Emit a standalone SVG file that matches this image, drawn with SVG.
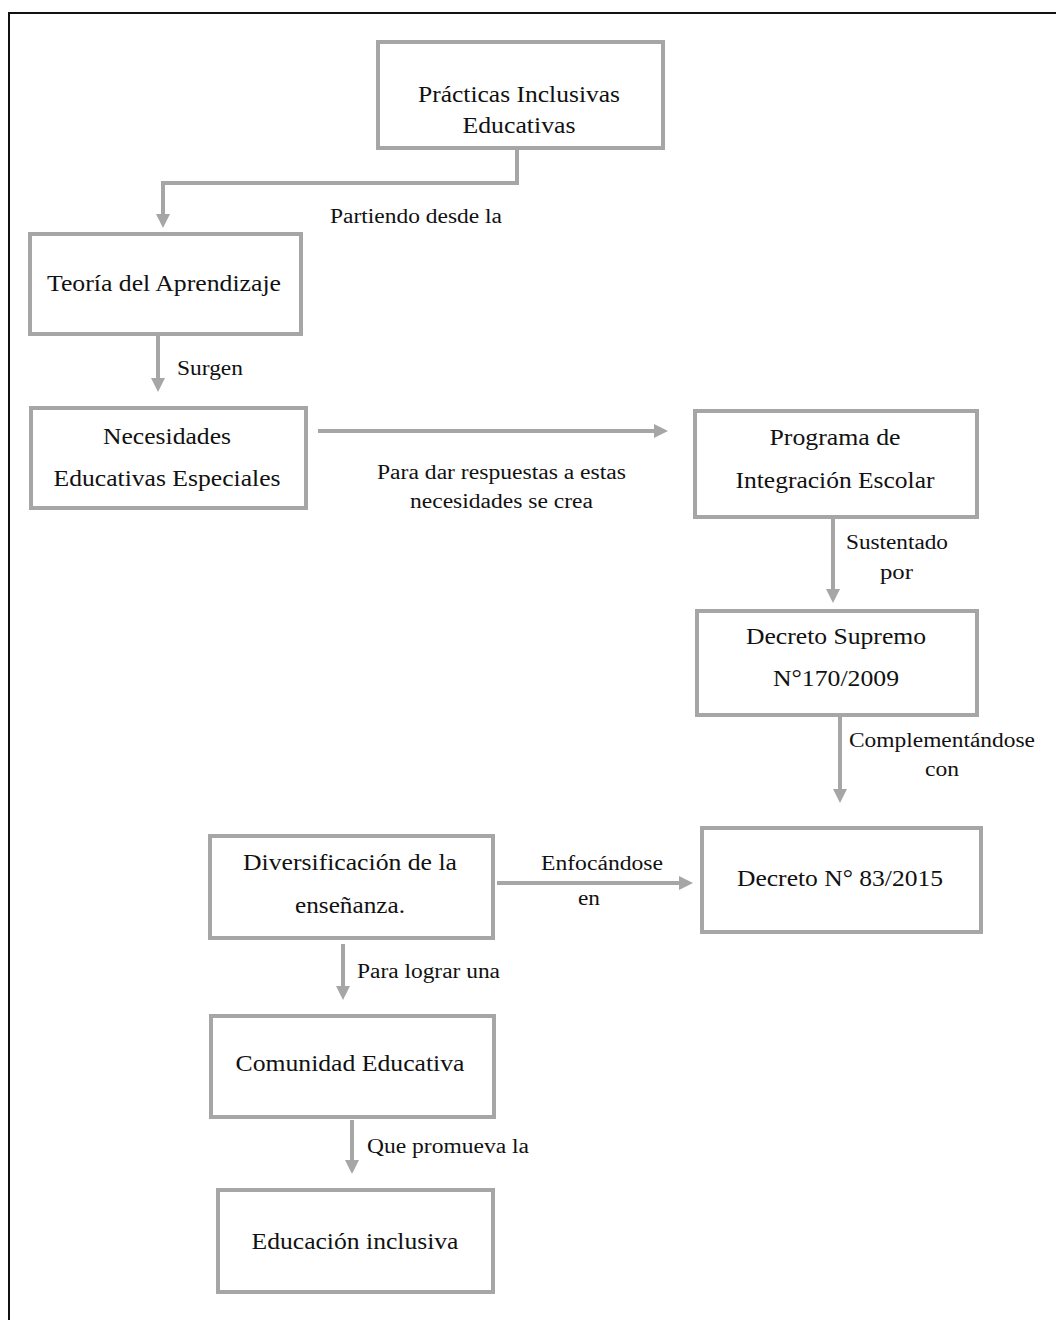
<svg xmlns="http://www.w3.org/2000/svg" width="1056" height="1320" viewBox="0 0 1056 1320">
<style>
.box{fill:#fff;stroke:#a6a6a6;stroke-width:4}
.t{font-family:"Liberation Serif","Times New Roman",serif;font-size:23px;fill:#111;text-anchor:middle}
.l{font-family:"Liberation Serif","Times New Roman",serif;font-size:20px;fill:#111}
.c{fill:none;stroke:#a6a6a6;stroke-width:4}
</style>
<defs>
<marker id="ah" markerUnits="userSpaceOnUse" markerWidth="16" markerHeight="16" refX="2" refY="7" orient="auto">
<path d="M0,0 L14,7 L0,14 z" fill="#a6a6a6"/>
</marker>
</defs>
<rect width="1056" height="1320" fill="#fff"/>
<path d="M9,1320 V13 H1056" fill="none" stroke="#111" stroke-width="2"/>
<g id="connectors">
<path class="c" d="M517,148 V183 H163 V216" marker-end="url(#ah)"/>
<path class="c" d="M158,336 V380" marker-end="url(#ah)"/>
<path class="c" d="M318,431 H656" marker-end="url(#ah)"/>
<path class="c" d="M833,517 V591" marker-end="url(#ah)"/>
<path class="c" d="M840,716 V791" marker-end="url(#ah)"/>
<path class="c" d="M497,883 H681" marker-end="url(#ah)"/>
<path class="c" d="M343,944 V988" marker-end="url(#ah)"/>
<path class="c" d="M352,1120 V1162" marker-end="url(#ah)"/>
<text class="l" x="330" y="223" textLength="172" lengthAdjust="spacingAndGlyphs">Partiendo desde la</text>
<text class="l" x="177" y="375" textLength="66" lengthAdjust="spacingAndGlyphs">Surgen</text>
<text class="l" x="377" y="479" textLength="249" lengthAdjust="spacingAndGlyphs">Para dar respuestas a estas</text>
<text class="l" x="410" y="508" textLength="183" lengthAdjust="spacingAndGlyphs">necesidades se crea</text>
<text class="l" x="846" y="549" textLength="102" lengthAdjust="spacingAndGlyphs">Sustentado</text>
<text class="l" x="880" y="579" textLength="33" lengthAdjust="spacingAndGlyphs">por</text>
<text class="l" x="849" y="747" textLength="186" lengthAdjust="spacingAndGlyphs">Complementándose</text>
<text class="l" x="925" y="776" textLength="34" lengthAdjust="spacingAndGlyphs">con</text>
<text class="l" x="541" y="870" textLength="122" lengthAdjust="spacingAndGlyphs">Enfocándose</text>
<text class="l" x="578" y="905" textLength="22" lengthAdjust="spacingAndGlyphs">en</text>
<text class="l" x="357" y="978" textLength="143" lengthAdjust="spacingAndGlyphs">Para lograr una</text>
<text class="l" x="367" y="1153" textLength="162" lengthAdjust="spacingAndGlyphs">Que promueva la</text>
</g>
<g id="n1"><rect class="box" x="378" y="42" width="285" height="106"/><text class="t" x="519" y="102" textLength="202" lengthAdjust="spacingAndGlyphs">Prácticas Inclusivas</text><text class="t" x="519" y="133" textLength="113" lengthAdjust="spacingAndGlyphs">Educativas</text></g>
<g id="n2"><rect class="box" x="30" y="234" width="271" height="100"/><text class="t" x="164" y="291" textLength="234" lengthAdjust="spacingAndGlyphs">Teoría del Aprendizaje</text></g>
<g id="n3"><rect class="box" x="31" y="408" width="275" height="100"/><text class="t" x="167" y="444" textLength="128" lengthAdjust="spacingAndGlyphs">Necesidades</text><text class="t" x="167" y="486" textLength="227" lengthAdjust="spacingAndGlyphs">Educativas Especiales</text></g>
<g id="n4"><rect class="box" x="695" y="411" width="282" height="106"/><text class="t" x="835" y="445" textLength="131" lengthAdjust="spacingAndGlyphs">Programa de</text><text class="t" x="835" y="488" textLength="199" lengthAdjust="spacingAndGlyphs">Integración Escolar</text></g>
<g id="n5"><rect class="box" x="697" y="611" width="280" height="104"/><text class="t" x="836" y="644" textLength="180" lengthAdjust="spacingAndGlyphs">Decreto Supremo</text><text class="t" x="836" y="686" textLength="126" lengthAdjust="spacingAndGlyphs">N°170/2009</text></g>
<g id="n6"><rect class="box" x="702" y="828" width="279" height="104"/><text class="t" x="840" y="886" textLength="206" lengthAdjust="spacingAndGlyphs">Decreto N° 83/2015</text></g>
<g id="n7"><rect class="box" x="210" y="836" width="283" height="102"/><text class="t" x="350" y="870" textLength="214" lengthAdjust="spacingAndGlyphs">Diversificación de la</text><text class="t" x="350" y="913" textLength="110" lengthAdjust="spacingAndGlyphs">enseñanza.</text></g>
<g id="n8"><rect class="box" x="211" y="1016" width="283" height="101"/><text class="t" x="350" y="1071" textLength="229" lengthAdjust="spacingAndGlyphs">Comunidad Educativa</text></g>
<g id="n9"><rect class="box" x="218" y="1190" width="275" height="102"/><text class="t" x="355" y="1249" textLength="207" lengthAdjust="spacingAndGlyphs">Educación inclusiva</text></g>
</svg>
